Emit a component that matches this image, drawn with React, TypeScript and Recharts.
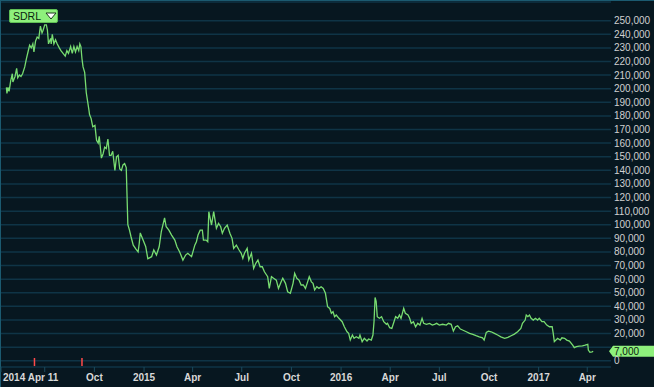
import React from "react";
import {
  LineChart,
  Line,
  XAxis,
  YAxis,
  CartesianGrid,
  ReferenceLine,
} from "recharts";

// [days since 2014-04-11, close price]
const priceSeries: [number, number][] = [
  [10, 201000], [11, 196600], [13, 201000], [15, 198000], [18, 206000], [21, 211000], [22, 205000],
  [26, 209000], [29, 215000], [31, 208000], [34, 210000], [37, 209000], [40, 211000], [44, 216000],
  [47, 222000], [50, 227000], [53, 232000], [56, 230000], [59, 233000], [61, 227000], [64, 235000],
  [67, 238000], [70, 237000], [73, 246000], [76, 241000], [78, 243000], [81, 247000], [84, 247000],
  [86, 243000], [88, 233000], [92, 237000], [93, 233000], [95, 240000], [98, 233000], [101, 236000],
  [104, 233000], [108, 230000], [111, 228000], [115, 226000], [119, 224000], [122, 228000],
  [125, 226000], [129, 231000], [132, 226000], [135, 231000], [138, 227000], [141, 231000],
  [144, 228000], [146, 233000], [148, 231000], [150, 222000], [152, 216000], [155, 212000],
  [158, 197000], [163, 184000], [164, 181000], [167, 178000], [170, 172000], [174, 173000],
  [177, 162000], [180, 160000], [182, 165000], [183, 161000], [186, 149000], [189, 152000],
  [192, 157000], [195, 156000], [198, 163000], [201, 151000], [204, 151000], [207, 154000],
  [211, 140000], [214, 150000], [217, 151000], [220, 141000], [223, 140000], [226, 144000],
  [229, 145000], [232, 142000], [235, 100000], [238, 96000], [241, 91000], [245, 85000],
  [250, 82000], [254, 80000], [256, 86000], [258, 94000], [263, 89000], [268, 84000], [272, 75000],
  [279, 76500], [283, 81400], [288, 77700], [293, 83800], [297, 95000], [303, 105000], [306, 98500],
  [311, 96000], [316, 92400], [322, 88700], [326, 83800], [331, 80000], [337, 74000], [342, 77700],
  [346, 79000], [353, 76500], [359, 85000], [362, 87500], [365, 92400], [369, 96000], [373, 96000],
  [375, 88700], [380, 88700], [383, 87500], [385, 109600], [390, 99800], [394, 109600],
  [399, 97400], [403, 101000], [407, 98500], [410, 93700], [414, 97400], [419, 99800],
  [424, 93700], [428, 90000], [431, 82600], [436, 85000], [441, 81400], [445, 79000], [448, 75300],
  [451, 79000], [456, 82600], [459, 74000], [464, 79000], [468, 67900], [472, 71600], [476, 74000],
  [480, 69100], [484, 69100], [488, 65400], [494, 61800], [497, 53200], [501, 61800], [505, 60600],
  [510, 59300], [514, 53200], [519, 58000], [522, 60600], [527, 56900], [531, 50700], [536, 49600],
  [541, 56900], [544, 64300], [548, 60600], [552, 59300], [556, 55700], [560, 55700], [564, 53200],
  [568, 58000], [571, 61800], [575, 58000], [578, 56900], [581, 52000], [585, 54400], [589, 53200],
  [593, 54400], [597, 53200], [601, 49600], [605, 39700], [609, 38500], [612, 34900], [615, 36000],
  [618, 32400], [621, 33600], [626, 31200], [632, 28700], [636, 25000], [641, 21300], [644, 20100],
  [647, 15200], [651, 18900], [654, 16500], [658, 17600], [663, 16500], [665, 18900], [669, 14000],
  [673, 16500], [678, 14500], [681, 16000], [686, 15200], [689, 18900], [691, 28700], [693, 46500],
  [695, 43400], [697, 32400], [701, 31200], [705, 32400], [709, 28700], [714, 26800], [716, 27500],
  [720, 24300], [724, 23800], [728, 28700], [731, 32400], [735, 31200], [738, 33600], [741, 31200],
  [746, 38500], [749, 34900], [754, 33600], [757, 31200], [760, 27500], [764, 28700], [768, 25000],
  [772, 27500], [776, 26200], [780, 31200], [783, 27500], [788, 26800], [794, 27500], [799, 26200],
  [803, 26800], [807, 27500], [812, 26200], [818, 26800], [825, 26200], [829, 27500], [834, 26800],
  [838, 21800], [842, 25000], [846, 25700], [851, 23300], [855, 22600], [862, 21300], [868, 20100],
  [874, 19400], [880, 18400], [886, 17600], [892, 16900], [895, 15200], [899, 20900], [903, 21800],
  [908, 21300], [914, 20100], [920, 18900], [926, 17600], [933, 16500], [939, 17200], [945, 18400],
  [951, 19600], [957, 21300], [963, 23800], [966, 27500], [971, 29900], [973, 33600], [976, 32400],
  [979, 33600], [982, 31200], [986, 29900], [990, 31200], [994, 29900], [997, 31200], [1002, 28700],
  [1006, 28700], [1011, 26200], [1016, 25000], [1021, 25000], [1023, 20100], [1025, 14000],
  [1028, 15200], [1031, 16500], [1036, 15200], [1039, 16900], [1044, 16500], [1048, 15200],
  [1053, 14500], [1059, 11500], [1062, 9600], [1066, 10300], [1071, 10800], [1077, 11000],
  [1082, 11500], [1087, 12100], [1088, 7900], [1091, 6200], [1095, 6600], [1097, 7000],
];

// x-axis tick days (since 2014-04-11) and their labels
const tickDays = [0, 81, 173, 265, 355, 446, 538, 630, 721, 812, 904, 996, 1086];
const tickLabels = ["2014 Apr 11", "", "Oct", "2015", "Apr", "Jul", "Oct", "2016", "Apr", "Jul", "Oct", "2017", "Apr"];

const priceTicks = [
  0, 10000, 20000, 30000, 40000, 50000, 60000, 70000, 80000, 90000, 100000, 110000, 120000,
  130000, 140000, 150000, 160000, 170000, 180000, 190000, 200000, 210000, 220000, 230000,
  240000, 250000,
];
// tick whose label is covered by the last-price tag
const hiddenPriceLabel = 10000;

// event markers (days since start)
const eventDays = [62, 150];

const ticker = "SDRL";
const lastPrice = 7000;

const data = priceSeries.map(([day, price]) => ({ day, price }));

const BG = "#071720";
const GRID = "#0f3446";
const LINE = "#78dc70";
const TAG = "#8ef07c";

const fmt = (v: number) => v.toLocaleString("en-US");

const XTick = (props: any) => {
  const { x, y, payload } = props;
  const idx = tickDays.indexOf(payload.value);
  const label = idx >= 0 ? tickLabels[idx] : "";
  const first = payload.value === 0;
  return (
    <text
      x={first ? x + 2 : x}
      y={y}
      dy="0.71em"
      textAnchor={first ? "start" : "middle"}
      fill="#d8d8d8"
      fontSize={10}
      fontWeight="bold"
      fontFamily="Liberation Sans, Arial, sans-serif"
    >
      {label}
    </text>
  );
};

const PriceTag = (props: any) => {
  const vb = props.viewBox || {};
  const right = (vb.x || 0) + (vb.width || 0);
  const cy = vb.y || 0;
  const h = 11;
  const path = `M ${right - 2} ${cy} L ${right + 2} ${cy - h / 2} L 654 ${cy - h / 2} L 654 ${cy + h / 2} L ${right + 2} ${cy + h / 2} Z`;
  return (
    <g>
      <path d={path} fill={TAG} />
      <text
        x={right + 3}
        y={cy}
        dy="0.36em"
        fill="#0a2010"
        fontSize={10}
        fontFamily="Liberation Sans, Arial, sans-serif"
      >
        {fmt(lastPrice)}
      </text>
    </g>
  );
};

export default function App() {
  return (
    <div
      style={{
        position: "absolute",
        left: 0,
        top: 0,
        width: 654,
        height: 387,
        background: BG,
        overflow: "hidden",
      }}
    >
      <div style={{ position: "absolute", left: 0, top: 0, width: 1, height: 387, background: "#1b5a70" }} />
      <div style={{ position: "absolute", left: 0, top: 0, width: 654, height: 1, background: "#1b5a70" }} />
      <LineChart
        width={654}
        height={387}
        data={data}
        margin={{ top: 2, right: 0, bottom: 0, left: 1 }}
      >
        <CartesianGrid vertical={false} stroke={GRID} strokeWidth={1.5} />
        <XAxis
          dataKey="day"
          type="number"
          domain={[0, 1130]}
          ticks={tickDays}
          interval={0}
          height={20}
          axisLine={false}
          tickLine={{ stroke: "#1b4a5c" }}
          tickSize={5}
          tickMargin={2}
          tick={<XTick />}
        />
        <YAxis
          orientation="right"
          type="number"
          domain={[-4600, 263750]}
          ticks={priceTicks}
          interval={0}
          width={43}
          axisLine={false}
          tickLine={false}
          tickSize={0}
          tickMargin={3}
          tickFormatter={(v: number) => (v === hiddenPriceLabel ? "" : fmt(v))}
          tick={{ fill: "#d0d0d0", fontSize: 10, fontFamily: "Liberation Sans, Arial, sans-serif" }}
        />
        {eventDays.map((d) => (
          <ReferenceLine
            key={d}
            segment={[
              { x: d, y: -3900 },
              { x: d, y: 2000 },
            ]}
            stroke="#ff4a4a"
            strokeWidth={1.5}
          />
        ))}
        <Line
          type="linear"
          dataKey="price"
          stroke={LINE}
          strokeWidth={1.3}
          dot={false}
          isAnimationActive={false}
        />
        <ReferenceLine y={lastPrice} stroke="none" label={<PriceTag />} ifOverflow="visible" />
      </LineChart>
      <div
        style={{
          position: "absolute",
          left: 9,
          top: 9,
          width: 49,
          height: 14,
          boxSizing: "border-box",
          background: TAG,
          border: "1px solid #5fbf55",
          borderRadius: 2,
          display: "flex",
          alignItems: "center",
          fontFamily: "Liberation Sans, Arial, sans-serif",
          fontSize: 10.5,
          color: "#0b1f10",
        }}
      >
        <span style={{ marginLeft: 3, lineHeight: "12px" }}>{ticker}</span>
        <svg width={12} height={10} style={{ marginLeft: 4 }}>
          <path d="M1 2 L11 2 L6 8 Z" fill="#ffffff" stroke="#1a3a1a" strokeWidth={1} />
        </svg>
      </div>
    </div>
  );
}
